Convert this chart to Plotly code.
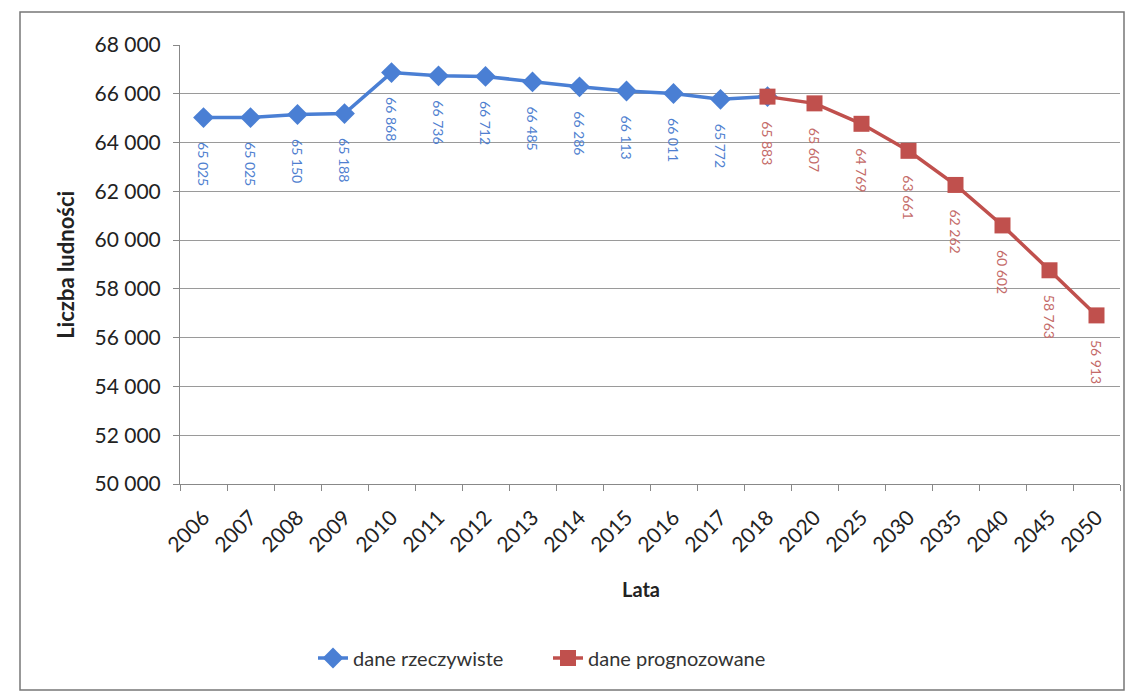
import plotly.graph_objects as go

years = ["2006", "2007", "2008", "2009", "2010", "2011", "2012", "2013", "2014",
         "2015", "2016", "2017", "2018", "2020", "2025", "2030", "2035", "2040",
         "2045", "2050"]
actual_years = years[:12]
actual = [65025, 65025, 65150, 65188, 66868, 66736, 66712, 66485, 66286, 66113, 66011, 65772]
forecast_years = years[12:]
forecast = [65883, 65607, 64769, 63661, 62262, 60602, 58763, 56913]

y_ticks = list(range(50000, 68001, 2000))

BLUE = "#4a7fd4"
RED = "#c0504d"
BLUE_TXT = "#4f7fd0"
RED_TXT = "#c46a68"
FONT = "Lato, 'Open Sans', sans-serif"

def fmt(v):
    return f"{v:,}".replace(",", " ")

fig = go.Figure()
fig.add_trace(go.Scatter(
    x=actual_years + [forecast_years[0]], y=actual + [forecast[0]],
    mode="lines+markers", name="dane rzeczywiste",
    line=dict(color=BLUE, width=3.5),
    marker=dict(symbol="diamond", size=16, color=BLUE),
))
fig.add_trace(go.Scatter(
    x=forecast_years, y=forecast,
    mode="lines+markers", name="dane prognozowane",
    line=dict(color=RED, width=3.5),
    marker=dict(symbol="square", size=16, color=RED),
))

for xs, ys, col in ((actual_years, actual, BLUE_TXT), (forecast_years, forecast, RED_TXT)):
    for xv, yv in zip(xs, ys):
        fig.add_annotation(x=years.index(xv), y=yv, text=fmt(yv), textangle=90, showarrow=False,
                           xanchor="center", yanchor="top", yshift=-22,
                           font=dict(family=FONT, size=14, color=col))

# axis titles
fig.add_annotation(x=0.49, y=-0.24, xref="paper", yref="paper", text="<b>Lata</b>",
                   showarrow=False, xanchor="center", yanchor="middle",
                   font=dict(family=FONT, size=20, color="#222"))
fig.add_annotation(x=-0.122, y=0.5, xref="paper", yref="paper", text="<b>Liczba ludności</b>",
                   textangle=-90, showarrow=False, xanchor="center", yanchor="middle",
                   font=dict(family=FONT, size=22, color="#222"))

# outer chart frame
L, T, W, H = 180, 45, 940, 439
def px(xp): return (xp - L) / W
def py(yp): return (T + H - yp) / H
fig.add_shape(type="rect", xref="paper", yref="paper",
              x0=px(20), x1=px(1124), y0=py(690), y1=py(12),
              line=dict(color="#777", width=1.5), fillcolor="rgba(0,0,0,0)", layer="below")

fig.update_layout(
    width=1133, height=697,
    margin=dict(l=L, r=1133 - L - W, t=T, b=697 - T - H),
    paper_bgcolor="white", plot_bgcolor="white",
    font=dict(family=FONT, size=18, color="#222"),
    separators=", ",
    showlegend=True,
    legend=dict(orientation="h", x=px(313), y=py(658), xanchor="left", yanchor="middle",
                font=dict(family=FONT, size=20, color="#333"), itemwidth=30,
                entrywidth=190, tracegroupgap=0),
    xaxis=dict(type="category", categoryorder="array", categoryarray=years,
               range=[-0.5, len(years) - 0.5],
               tickangle=-45, tickfont=dict(family=FONT, size=21, color="#222"),
               ticks="outside", tickson="boundaries", ticklen=6, tickcolor="#888",
               ticklabelstandoff=12,
               showline=True, linecolor="#888", linewidth=1,
               showgrid=False, zeroline=False),
    yaxis=dict(range=[50000, 68000], tickvals=y_ticks, tickformat=",d",
               tickfont=dict(family=FONT, size=21, color="#222"),
               ticks="outside", ticklen=6, tickcolor="#888",
               ticklabelstandoff=8,
               showline=True, linecolor="#888", linewidth=1,
               showgrid=True, gridcolor="#9a9a9a", gridwidth=1, zeroline=False),
)

fig.write_html("out.html", config={"displayModeBar": False},
               post_script="document.body.style.margin='0';")
